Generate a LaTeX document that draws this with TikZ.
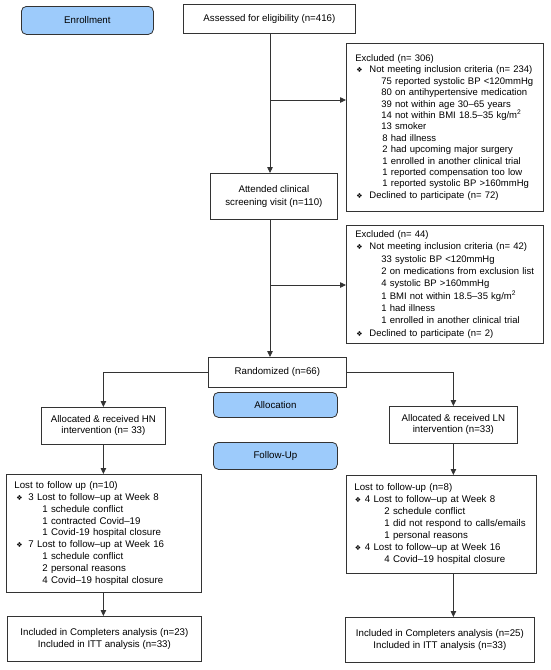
\documentclass[tikz,border=0pt]{standalone}
\usepackage{fontspec}
\setmainfont{Liberation Sans}
\newfontfamily\symfont{DejaVu Sans}
\usetikzlibrary{arrows.meta}
\definecolor{bx}{HTML}{333333}
\definecolor{phase}{HTML}{9DCBFB}
\newcommand{\bul}[2]{\hspace*{#1}\makebox[#2][l]{\symfont\fontsize{7}{7}\selectfont ❖}}
\newcommand{\ind}[1]{\hspace*{#1}}
\newcommand{\li}[1]{\mbox{#1}}
\begin{document}
\begin{tikzpicture}[x=1pt,y=-1pt,
  box/.style={draw=bx, line width=0.8pt, fill=white, inner sep=0pt, align=center,
    font=\fontsize{9.7}{11.6}\selectfont, anchor=north west},
  lst/.style={box, align=left},
  phasebox/.style={draw=bx, line width=0.8pt, fill=phase, rounded corners=5pt,
    inner sep=0pt, anchor=north west, font=\fontsize{9.7}{11.6}\selectfont},
  arr/.style={draw=bx, line width=0.8pt, -{Triangle[length=6pt,width=5.5pt]}},
  ln/.style={draw=bx, line width=0.8pt}]
\useasboundingbox (0,0) rectangle (550,670);

% phase labels
\node[phasebox, minimum width=132, minimum height=28] (enr) at (21,6) {Enrollment};
\node[phasebox, minimum width=124, minimum height=25] (alloc) at (213,392) {Allocation};
\node[phasebox, minimum width=124, minimum height=27] (fu) at (213,442) {Follow-Up};

% main flow
\node[box, minimum width=172, minimum height=29] (assess) at (183,4) {Assessed for eligibility (n=416)};
\node[box, minimum width=127, minimum height=46, font=\fontsize{9.7}{12.5}\selectfont] (attend) at (210,173) {Attended clinical\\screening visit (n=110)};
\node[box, minimum width=138, minimum height=30] (rand) at (208,357) {Randomized (n=66)};

% exclusion boxes
\node[lst, inner xsep=9pt, text width=179, minimum height=168, font=\fontsize{9.5}{11.4}\selectfont] (ex1) at (346,43) {%
\li{Excluded (n= 306)}\\
\li{\bul{1pt}{13pt}Not meeting inclusion criteria (n= 234)}\\
\li{\ind{26pt}75 reported systolic BP <120mmHg}\\
\li{\ind{26pt}80 on antihypertensive medication}\\
\li{\ind{26pt}39 not within age 30–65 years}\\
\li{\ind{26pt}14 not within BMI 18.5–35 kg/m\textsuperscript{2}}\\
\li{\ind{26pt}13 smoker}\\
\li{\ind{27pt}8 had illness}\\
\li{\ind{27pt}2 had upcoming major surgery}\\
\li{\ind{27pt}1 enrolled in another clinical trial}\\
\li{\ind{27pt}1 reported compensation too low}\\
\li{\ind{27pt}1 reported systolic BP >160mmHg}\\
\li{\bul{1pt}{13pt}Declined to participate (n= 72)}};

\node[lst, inner xsep=9pt, text width=179, minimum height=118, font=\fontsize{9.5}{12.3}\selectfont] (ex2) at (346,225) {%
\li{Excluded (n= 44)}\\
\li{\bul{1pt}{13pt}Not meeting inclusion criteria (n= 42)}\\
\li{\ind{26pt}33 systolic BP <120mmHg}\\
\li{\ind{26pt}2 on medications from exclusion list}\\
\li{\ind{26pt}4 systolic BP >160mmHg}\\
\li{\ind{26pt}1 BMI not within 18.5–35 kg/m\textsuperscript{2}}\\
\li{\ind{26pt}1 had illness}\\
\li{\ind{26pt}1 enrolled in another clinical trial}\\
\li{\bul{1pt}{13pt}Declined to participate (n= 2)}};

% allocation boxes
\node[box, minimum width=124, minimum height=37, font=\fontsize{9.7}{11}\selectfont] (hn) at (41,407) {Allocated \& received HN\\intervention (n= 33)};
\node[box, minimum width=128, minimum height=37, font=\fontsize{9.7}{11}\selectfont] (lnb) at (389,406) {Allocated \& received LN\\intervention (n=33)};

% lost to follow-up
\node[lst, inner xsep=8pt, text width=179, minimum height=118, font=\fontsize{9.7}{11.9}\selectfont] (lostL) at (6,474) {%
\li{Lost to follow up (n=10)}\\
\li{\bul{2pt}{12pt}3 Lost to follow–up at Week 8}\\
\li{\ind{28pt}1 schedule conflict}\\
\li{\ind{28pt}1 contracted Covid–19}\\
\li{\ind{28pt}1 Covid-19 hospital closure}\\
\li{\bul{2pt}{12pt}7 Lost to follow–up at Week 16}\\
\li{\ind{28pt}1 schedule conflict}\\
\li{\ind{28pt}2 personal reasons}\\
\li{\ind{28pt}4 Covid–19 hospital closure}};

\node[lst, inner xsep=8pt, text width=174, minimum height=98, font=\fontsize{9.7}{12}\selectfont] (lostR) at (346,475) {%
\li{Lost to follow-up (n=8)}\\
\li{\bul{0.5pt}{10pt}4 Lost to follow–up at Week 8}\\
\li{\ind{30pt}2 schedule conflict}\\
\li{\ind{30pt}1 did not respond to calls/emails}\\
\li{\ind{30pt}1 personal reasons}\\
\li{\bul{0.5pt}{10pt}4 Lost to follow–up at Week 16}\\
\li{\ind{30pt}4 Covid–19 hospital closure}};

% analysis
\node[box, minimum width=194, minimum height=45, font=\fontsize{9.7}{11.7}\selectfont] (compL) at (7,616) {Included in Completers analysis (n=23)\\Included in ITT analysis (n=33)};
\node[box, minimum width=189, minimum height=45, font=\fontsize{9.7}{11.7}\selectfont] (compR) at (345,617) {Included in Completers analysis (n=25)\\Included in ITT analysis (n=33)};

% connectors
\coordinate (b1) at (270,100);
\coordinate (b2) at (270,285);
\draw[arr] (assess.south -| b1) -- (attend.north -| b1);
\draw[arr] (b1) -- (b1 -| ex1.west);
\draw[arr] (attend.south -| b2) -- (rand.north -| b2);
\draw[arr] (b2) -- (b2 -| ex2.west);
\draw[arr] (rand.west) -| (hn.north);
\draw[arr] (rand.east) -| (lnb.north);
\draw[arr] (hn.south) -- (hn.south |- lostL.north);
\draw[arr] (lostL.south -| hn.south) -- (hn.south |- compL.north);
\draw[arr] (lnb.south) -- (lnb.south |- lostR.north);
\draw[arr] (lostR.south -| lnb.south) -- (lnb.south |- compR.north);
\end{tikzpicture}
\end{document}
